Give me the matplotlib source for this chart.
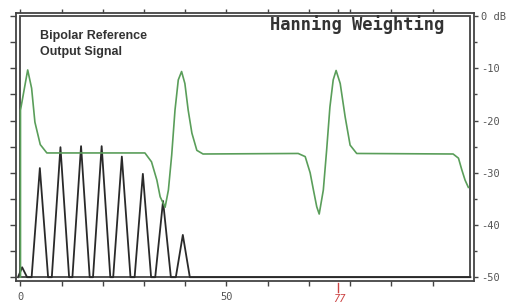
import matplotlib
matplotlib.use("Agg")
import matplotlib.pyplot as plt
from matplotlib.patches import Rectangle

# green curve: Hanning weighted response (dB)
green_x = [0, 0, 1.75, 2.7, 3.5, 4.8, 6.4, 30.2, 31.8, 33.1, 33.9, 35.1, 35.9, 36.7,
           37.5, 38.3, 39.1, 39.9, 40.7, 41.6, 42.8, 44.3, 67.4, 69.1, 70.3, 71.1,
           71.9, 72.5, 73.5, 74.3, 75.1, 75.9, 76.6, 77.6, 78.8, 80.0, 81.6, 105.0,
           106.3, 107.1, 107.9, 108.7]
green_y = [-50, -18.0, -10.3, -13.8, -20.3, -24.6, -26.2, -26.2, -27.9, -31.4, -34.6,
           -36.6, -33.3, -26.6, -18.0, -12.2, -10.6, -12.9, -18.0, -22.4, -25.7, -26.4,
           -26.3, -26.9, -30.0, -33.3, -36.5, -37.9, -33.3, -25.7, -17.4, -12.2, -10.4,
           -12.9, -19.3, -24.7, -26.3, -26.4, -27.2, -29.4, -31.4, -32.8]

# black bursts: bipolar reference output signal
pulse_centers = [4.7, 9.7, 14.7, 19.7, 24.6, 29.7, 34.6, 39.4]
pulse_peaks = [-29.1, -25.1, -24.9, -24.9, -26.9, -30.2, -35.4, -41.9]
pulse_halfwidths = [2.0, 2.1, 2.1, 2.1, 2.1, 2.0, 1.9, 1.7]
bump_x = [-0.6, 0.4, 1.6]
bump_y = [-50, -48.1, -50]
x_end = 109.2
marker_x = 77

bx = list(bump_x)
by = list(bump_y)
for c, p, hw in zip(pulse_centers, pulse_peaks, pulse_halfwidths):
    bx += [c - hw, c, c + hw]
    by += [-50, p, -50]
bx.append(x_end)
by.append(-50)

W, H = 519, 305
fig = plt.figure(figsize=(W / 100, H / 100), dpi=100)
l, r, t, b = 15.5, 474, 13, 281
ax = fig.add_axes([l / W, 1 - b / H, (r - l) / W, (b - t) / H])
ax.set_xlim(-1.21, 110.07)
ax.set_ylim(-50.73, 0.61)

frame = '#444444'
for s in ax.spines.values():
    s.set_color(frame)
    s.set_linewidth(1.3)
ax.add_patch(Rectangle((0, -50), x_end, 50, fill=False, ec=frame, lw=1.3))

ax.plot(bx, by, color='#2a2a2a', lw=1.3)
ax.plot(green_x, green_y, color='#5a9e5a', lw=1.2)

mono = 'DejaVu Sans Mono'
# left ticks, no labels
ax.set_yticks(range(-50, 1, 5))
ax.set_yticklabels([])
ax.tick_params(axis='y', direction='out', length=4.3, color=frame, width=1)
# bottom ticks
ax.set_xticks(range(0, 101, 10))
ax.set_xticklabels(['0', '', '', '', '', '50', '', '', '', '', ''])
ax.tick_params(axis='x', direction='out', length=3.6, color=frame, width=1,
               labelsize=7.5, labelcolor='#555555', pad=4.5)
for lab in ax.get_xticklabels():
    lab.set_family(mono)

top = ax.secondary_xaxis('top')
top.set_xticks(list(range(0, 101, 10)) + [marker_x])
top.set_xticklabels([])
top.tick_params(direction='out', length=2.9, color=frame, width=1)
top.spines['top'].set_visible(False)

right = ax.secondary_yaxis('right')
right.set_yticks(range(-50, 1, 10))
right.set_yticklabels(['-50', '-40', '-30', '-20', '-10', '0 dB'])
right.set_yticks(range(-45, 0, 10), minor=True)
right.tick_params(which='major', direction='out', length=3.2, color=frame, width=1,
                  labelsize=7.5, labelcolor='#555555', pad=2)
right.tick_params(which='minor', direction='out', length=2.5, color=frame, width=1)
right.spines['right'].set_visible(False)
for lab in right.get_yticklabels():
    lab.set_family(mono)

# red marker at 77
ax.plot([marker_x, marker_x], [-51.2, -52.9], color='#cc4444', lw=1, clip_on=False)
ax.text(marker_x + 0.4, -53.2, '77', color='#cc4444', fontsize=7.5, family=mono,
        fontstyle='italic', ha='center', va='top', clip_on=False)

fig.text(357 / W, 1 - 30.5 / H, 'Hanning Weighting', family=mono, weight='bold',
         fontsize=12.3, color='#333333', ha='center', va='baseline')
fig.text(40.5 / W, 1 - 38.5 / H, 'Bipolar Reference', family='Liberation Sans',
         weight='bold', fontsize=9, color='#333333', va='baseline')
fig.text(40.5 / W, 1 - 55.5 / H, 'Output Signal', family='Liberation Sans',
         weight='bold', fontsize=9, color='#333333', va='baseline')

fig.savefig('out.png', dpi=100)
